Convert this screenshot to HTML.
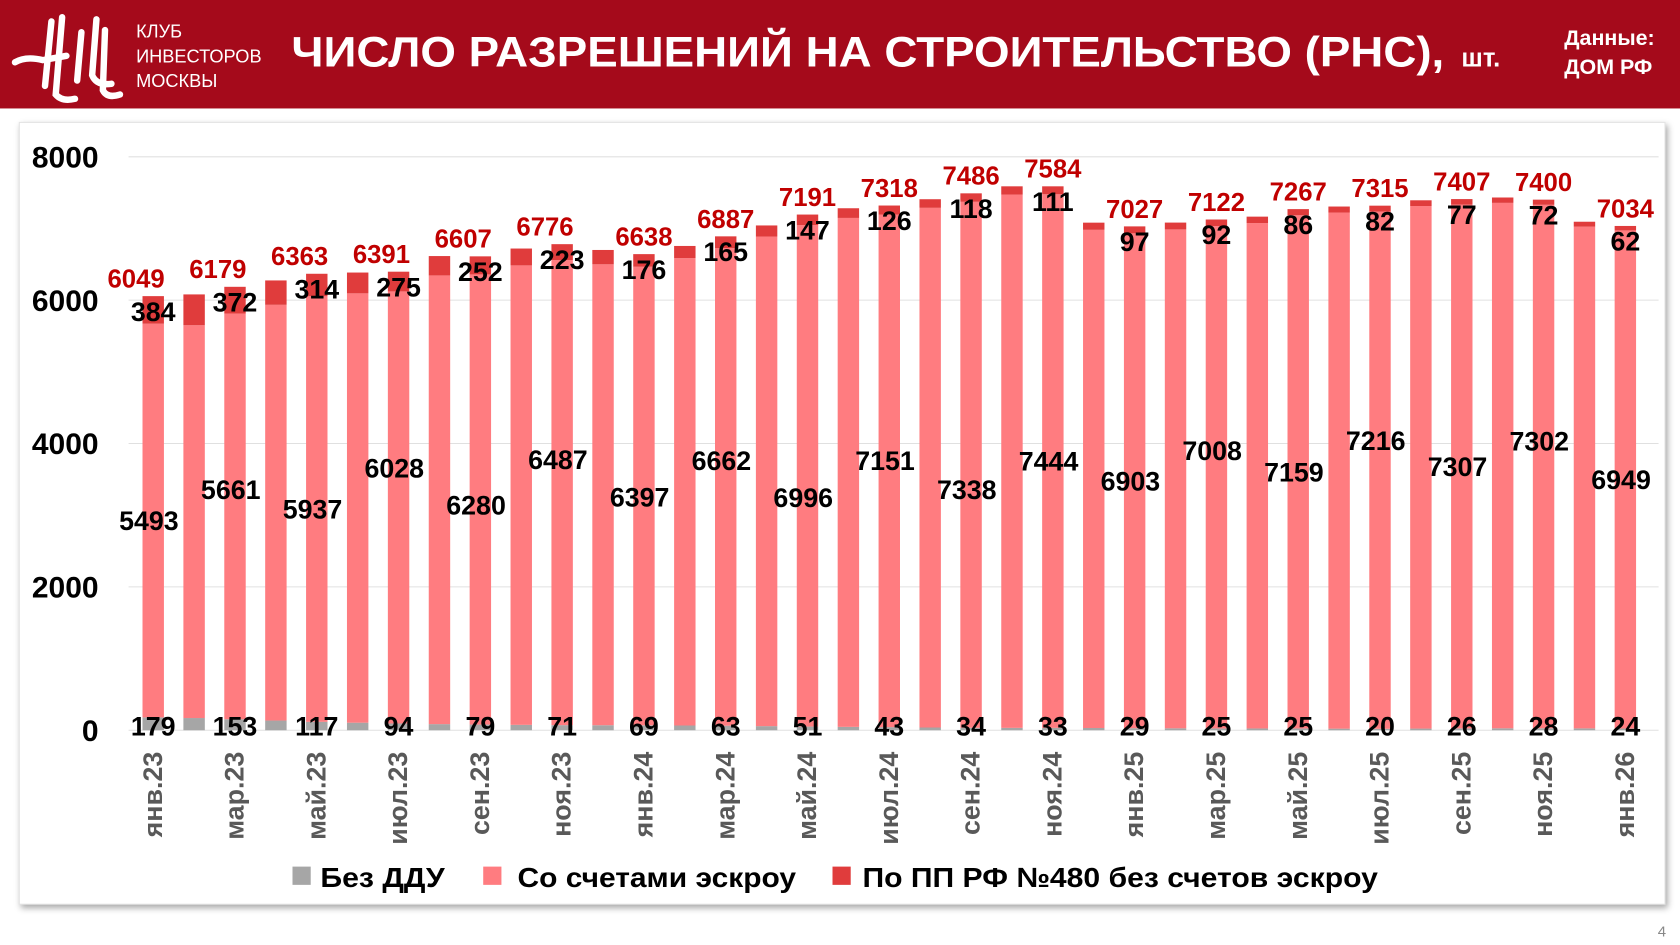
<!DOCTYPE html>
<html><head><meta charset="utf-8">
<style>
html,body{margin:0;padding:0;background:#fff;}
svg{display:block;}
text{font-family:"Liberation Sans",sans-serif;}
</style></head>
<body>
<svg id="chart" width="1680" height="945" viewBox="0 0 1568 880" preserveAspectRatio="none" xmlns="http://www.w3.org/2000/svg">
<rect x="0" y="0" width="1568" height="101" fill="#a50a1b"/>
<g stroke="#fff" fill="none" stroke-width="6" stroke-linecap="round">
<path d="M14 58 Q24 52 40 56 L62 52"/>
<path d="M48 20 L42 80"/>
<path d="M58 16 L52 88 Q58 95 70 92"/>
<path d="M76 30 L72 75"/>
<path d="M90 18 L86 70 Q90 80 104 78"/>
<path d="M98 28 L96 84 Q100 92 112 88"/>
</g>
<text x="127" y="35" fill="#fff" font-size="17">КЛУБ</text>
<text x="127" y="58" fill="#fff" font-size="17">ИНВЕСТОРОВ</text>
<text x="127" y="81" fill="#fff" font-size="17">МОСКВЫ</text>
<text x="272" y="62" fill="#fff" font-size="40" font-weight="bold" textLength="1076" lengthAdjust="spacingAndGlyphs">ЧИСЛО РАЗРЕШЕНИЙ НА СТРОИТЕЛЬСТВО (РНС),</text>
<text x="1364" y="62" fill="#fff" font-size="24" font-weight="bold">шт.</text>
<text x="1460" y="42" fill="#fff" font-size="20" font-weight="bold">Данные:</text>
<text x="1460" y="69" fill="#fff" font-size="20" font-weight="bold">ДОМ РФ</text>
<rect x="18" y="114" width="1536" height="728" fill="#fff" stroke="#e4e4e4" style="filter:drop-shadow(2px 3px 3px rgba(0,0,0,0.35))"/>
<text x="1555" y="872" fill="#888" font-size="14" text-anchor="end">4</text>
<g id="grid"></g>
<g id="bars"></g>
<g id="labels"></g>
<g>
<rect x="273" y="807" width="17" height="17" fill="#a6a6a6"/>
<text x="299" y="826" font-size="26" font-weight="bold" fill="#000" textLength="116" lengthAdjust="spacingAndGlyphs">Без ДДУ</text>
<rect x="451" y="807" width="17" height="17" fill="#ff7c80"/>
<text x="483" y="826" font-size="26" font-weight="bold" fill="#000" textLength="260" lengthAdjust="spacingAndGlyphs">Со счетами эскроу</text>
<rect x="777" y="807" width="17" height="17" fill="#e03c3c"/>
<text x="805" y="826" font-size="26" font-weight="bold" fill="#000" textLength="481" lengthAdjust="spacingAndGlyphs">По ПП РФ №480 без счетов эскроу</text>
</g>
</svg>
<script>
const months = ["янв.23","фев.23","мар.23","апр.23","май.23","июн.23","июл.23","авг.23","сен.23","окт.23","ноя.23","дек.23","янв.24","фев.24","мар.24","апр.24","май.24","июн.24","июл.24","авг.24","сен.24","окт.24","ноя.24","дек.24","янв.25","фев.25","мар.25","апр.25","май.25","июн.25","июл.25","авг.25","сен.25","окт.25","ноя.25","дек.25","янв.26"];
const noDdu = [179,170,153,135,117,105,94,85,79,75,71,70,69,66,63,57,51,47,43,38,34,33,33,31,29,27,25,25,25,22,20,23,26,27,28,26,24];
const escrow = [5493,5480,5661,5800,5937,5990,6028,6260,6280,6410,6487,6430,6397,6520,6662,6830,6996,7100,7151,7250,7338,7440,7444,6950,6903,6960,7008,7050,7159,7200,7216,7290,7307,7330,7302,7000,6949];
const pp480 = [384,430,372,340,314,290,275,270,252,235,223,200,176,170,165,155,147,135,126,120,118,115,111,100,97,95,92,90,86,84,82,80,77,75,72,68,62];
const totalsPrinted = [6049,null,6179,null,6363,null,6391,null,6607,null,6776,null,6638,null,6887,null,7191,null,7318,null,7486,null,7584,null,7027,null,7122,null,7267,null,7315,null,7407,null,7400,null,7034];
const yTicks = [0,2000,4000,6000,8000];
// label layout nudges (px) for escrow value labels, per labelled bar
const escrowLabelNudge = [0,-25,0,-37,5,-31,1,-25,20,-10,23,0,0,-25,0,-28,0,-24,0];

const NS="http://www.w3.org/2000/svg";
const y0=680, yTop=146, yMax=8000;
const yS=v=>y0-(v/yMax)*(y0-yTop);
const x0=143, x1=1517;
const xS=i=>x0+i*(x1-x0)/(months.length-1);
const bw=20;
function mk(tag,attrs,parent,txt){const e=document.createElementNS(NS,tag);for(const k in attrs)e.setAttribute(k,attrs[k]);if(txt!==undefined)e.textContent=txt;parent.appendChild(e);return e;}
const grid=document.getElementById('grid'),bars=document.getElementById('bars'),labels=document.getElementById('labels');
yTicks.forEach(t=>{
  const l=mk('line',{x1:120,x2:1548,y1:yS(t),y2:yS(t),stroke:'#e0e0e0','stroke-width':1},grid);
  
  
  const tx=mk('text',{x:92,y:yS(t)+10,'text-anchor':'end','font-size':28,'font-weight':'bold',fill:'#000'},grid,String(t));
  
  
});
months.forEach((m,i)=>{
  const x=xS(i)-bw/2;
  const a=noDdu[i],b=escrow[i],c=pp480[i];
  const r1=mk('rect',{x:x,width:bw,y:yS(a),height:y0-yS(a),fill:'#a6a6a6'},bars);
  
  
  const r2=mk('rect',{x:x,width:bw,y:yS(a+b),height:yS(a)-yS(a+b),fill:'#ff7c80'},bars);
  
  
  const r3=mk('rect',{x:x,width:bw,y:yS(a+b+c),height:yS(a+b)-yS(a+b+c),fill:'#e03c3c'},bars);
  
  
  if(i%2===0){
    const k=i/2;
    const cx=xS(i);
    const xl=mk('text',{transform:`translate(${cx+8},700) rotate(-90)`,'text-anchor':'end','font-size':25,'font-weight':'bold',fill:'#595959'},labels,m);
    
    
    const tot=totalsPrinted[i]!=null?totalsPrinted[i]:a+b+c;
    const tl=mk('text',{x:cx-(k<6?16:0),y:yS(a+b+c)-8,'text-anchor':'middle','font-size':24,'font-weight':'bold',fill:'#c00000'},labels,String(tot));
    
    
    const pl=mk('text',{x:cx,y:yS(a+b+c)+23,'text-anchor':'middle','font-size':25,'font-weight':'bold',fill:'#000'},labels,String(c));
    
    
    const ey=yS(a+b/2)+9+(escrowLabelNudge[k]||0);
    const el=mk('text',{x:cx-4,y:ey,'text-anchor':'middle','font-size':25,'font-weight':'bold',fill:'#000'},labels,String(b));
    
    
    const gl=mk('text',{x:cx,y:685,'text-anchor':'middle','font-size':25,'font-weight':'bold',fill:'#000'},labels,String(a));
    
    
  }
});
</script>
</body></html>
